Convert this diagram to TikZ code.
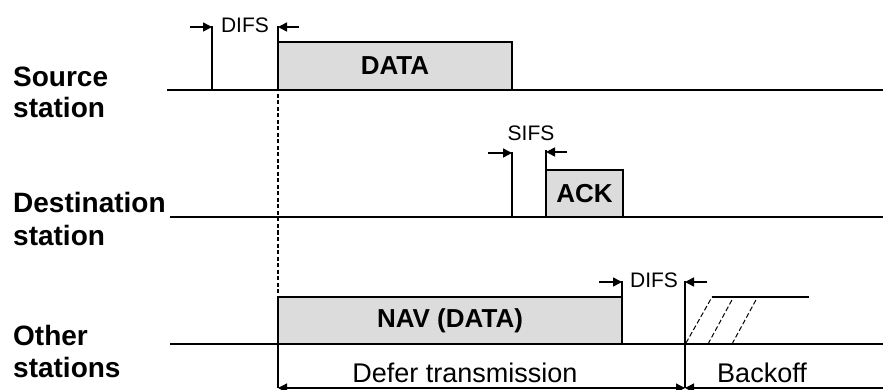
\documentclass[tikz,border=0pt]{standalone}
\usepackage{fontspec}
\setmainfont{Liberation Sans}
\usetikzlibrary{arrows.meta}
\definecolor{boxgray}{RGB}{220,220,220}
\tikzset{
  ln/.style={line width=1.3pt, black},
  frame/.style={draw=black, fill=boxgray, line width=1.3pt, inner sep=0pt, outer sep=0pt, anchor=south west},
  boxtext/.style={font=\fontsize{26}{28}\selectfont\bfseries},
  stlabel/.style={anchor=base west, inner sep=0pt, font=\fontsize{28}{30}\selectfont\bfseries},
  dimlabel/.style={inner sep=0pt, font=\fontsize{21}{23}\selectfont},
  biglabel/.style={inner sep=0pt, anchor=base, font=\fontsize{27}{29}\selectfont},
  dimarrow/.style={line width=1.5pt, -{Triangle[length=9pt,width=9pt]}},
  bothtips/.style={line width=1.3pt, {Triangle[length=9pt,width=9pt]}-{Triangle[length=9pt,width=9pt]}},
  lefttip/.style={line width=1.3pt, {Triangle[length=9pt,width=9pt]}-},
  slant/.style={line width=1pt, dash pattern=on 5pt off 2.5pt},
}
\begin{document}
\begin{tikzpicture}[x=1pt,y=-1pt]
\useasboundingbox (0,0) rectangle (883,390);

% station labels
\node[stlabel] (src1) at (13,87) {Source};
\node[stlabel] (src2) at (13,118) {station};
\node[stlabel] (dst1) at (13,212) {Destination};
\node[stlabel] (dst2) at (13,245) {station};
\node[stlabel] (oth1) at (13,345) {Other};
\node[stlabel] (oth2) at (13,377) {stations};

% boxes
\node[frame, minimum width=234pt, minimum height=48pt] (data) at (278,90) {};
\node[boxtext] at (data.center) {DATA};
\node[frame, minimum width=77pt, minimum height=47pt] (ack) at (546,217) {};
\node[boxtext] at (ack.center) {ACK};
\node[frame, minimum width=344pt, minimum height=47pt] (nav) at (278,344) {};
\node[boxtext] at (nav.center) {NAV (DATA)};

% time lines
\coordinate (s0) at (167,90);  \coordinate (s1) at (883,90);
\coordinate (d0) at (170,217); \coordinate (d1) at (883,217);
\coordinate (o0) at (170,344); \coordinate (o1) at (883,344);
\draw[ln] (s0) -- (s1);
\draw[ln] (d0) -- (d1);
\draw[ln] (o0) -- (o1);

% DIFS (source)
\coordinate (difsA0) at (212,90);  \coordinate (difsA1) at (212,26);
\coordinate (difsB1) at (278,26);
\coordinate (difsAl) at (190,27);  \coordinate (difsAr) at (212,27);
\coordinate (difsBr) at (299,27);  \coordinate (difsBl) at (278,27);
\draw[ln] (difsA0) -- (difsA1);
\draw[ln] (data.north west) -- (difsB1);
\draw[dimarrow] (difsAl) -- (difsAr);
\draw[dimarrow] (difsBr) -- (difsBl);
\node[dimlabel] (difs1) at (245,25) {DIFS};

% dashed guide
\draw[line width=1.1pt, dash pattern=on 4pt off 2.5pt] (data.north west) -- (nav.north west);

% SIFS
\coordinate (sifsA0) at (512,217); \coordinate (sifsA1) at (512,152);
\coordinate (sifsB1) at (546,150);
\coordinate (sifsAl) at (488,153); \coordinate (sifsAr) at (512,153);
\coordinate (sifsBr) at (567,152); \coordinate (sifsBl) at (546,152);
\draw[ln] (sifsA0) -- (sifsA1);
\draw[ln] (ack.north west) -- (sifsB1);
\draw[dimarrow] (sifsAl) -- (sifsAr);
\draw[dimarrow] (sifsBr) -- (sifsBl);
\node[dimlabel] (sifs) at (531,133) {SIFS};

% DIFS (others)
\coordinate (difsC1) at (622,281);
\coordinate (difsD0) at (685,388); \coordinate (difsD1) at (685,281);
\coordinate (difsCl) at (599,282); \coordinate (difsCr) at (622,282);
\coordinate (difsDr) at (707,282); \coordinate (difsDl) at (685,282);
\draw[ln] (nav.north east) -- (difsC1);
\draw[ln] (difsD0) -- (difsD1);
\draw[dimarrow] (difsCl) -- (difsCr);
\draw[dimarrow] (difsDr) -- (difsDl);
\node[dimlabel] (difs2) at (654,280) {DIFS};

% backoff slots
\coordinate (b0) at (686,343); \coordinate (b0t) at (712,297);
\coordinate (b1) at (708,344); \coordinate (b1t) at (733,298);
\coordinate (b2) at (732,344); \coordinate (b2t) at (757,298);
\coordinate (bend) at (809,297);
\draw[slant] (b0) -- (b0t);
\draw[slant] (b1) -- (b1t);
\draw[slant] (b2) -- (b2t);
\draw[line width=1.1pt] (b0t) -- (bend);

% bottom dimension
\coordinate (defL) at (278,388);
\coordinate (defR) at (685,388);
\coordinate (bkR) at (883,388);
\draw[ln] (nav.south west) -- (defL);
\draw[bothtips] (defL) -- (defR);
\draw[lefttip] (defR) -- (bkR);
\node[biglabel] (defer) at (465,382) {Defer transmission};
\node[biglabel] (backoff) at (762,382) {Backoff};
\end{tikzpicture}
\end{document}
